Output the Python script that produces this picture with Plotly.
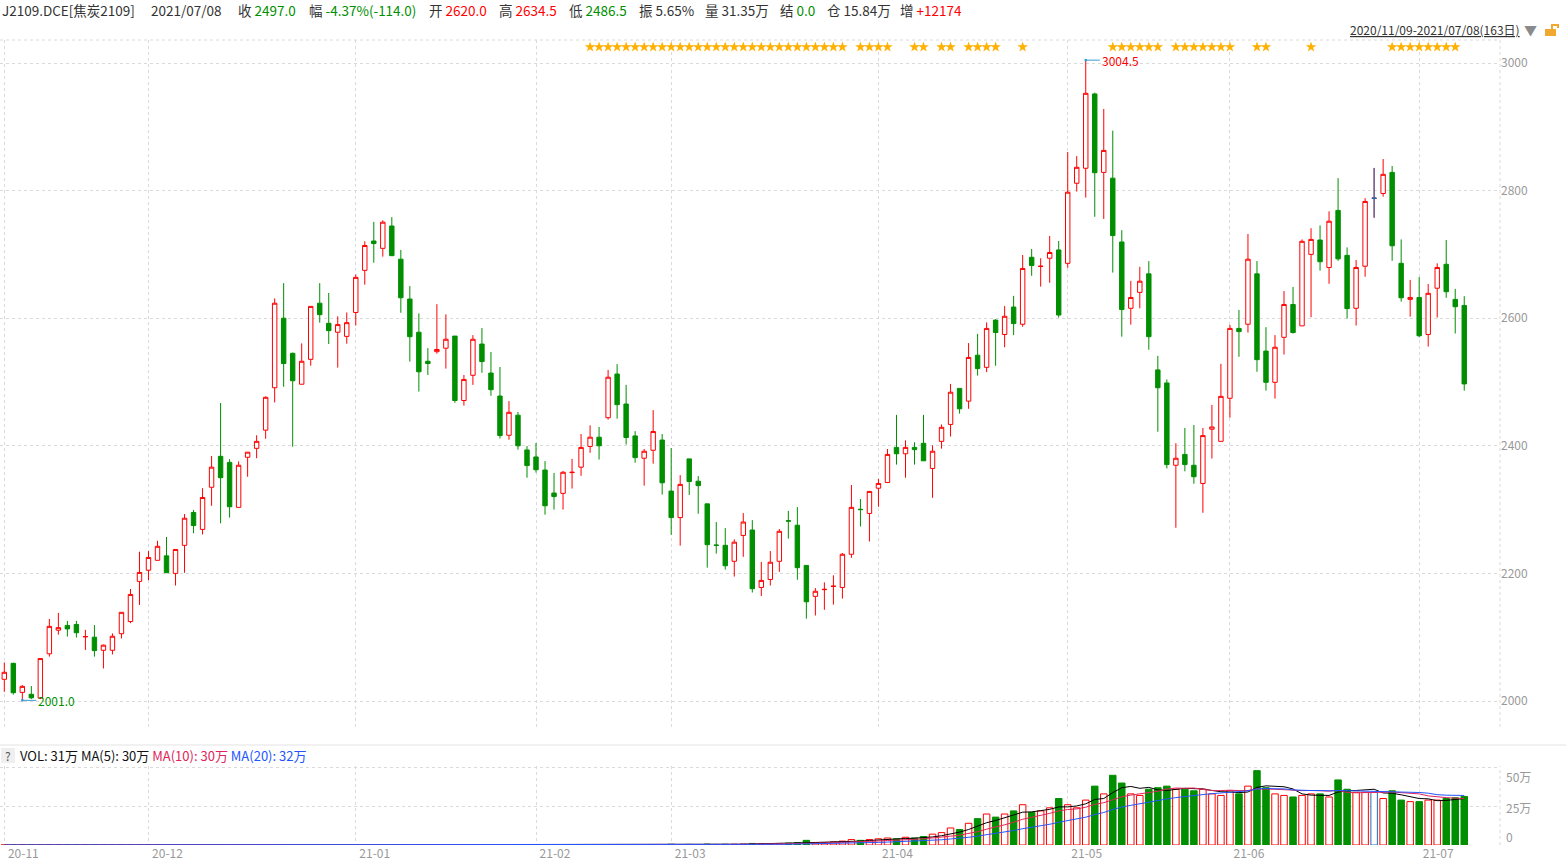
import pandas as pd
import plotly.graph_objects as go

# ---------------- data ----------------
holidays = ["2021-01-01", "2021-02-11", "2021-02-12", "2021-02-15", "2021-02-16",
            "2021-02-17", "2021-04-05", "2021-05-03", "2021-05-04", "2021-05-05", "2021-06-14"]
trade_days = [d.strftime("%Y-%m-%d") for d in pd.bdate_range("2020-11-09", "2021-07-08")
              if d.strftime("%Y-%m-%d") not in holidays]

opens = [2034, 2059, 2013.5, 2010.5, 2004.5, 2074, 2111, 2118.5, 2120, 2100.5,
         2100, 2079.5, 2079.5, 2105.5, 2124.5, 2187.5, 2205, 2220.5, 2227.5, 2200,
         2244, 2295.5, 2269, 2335, 2383.5, 2374, 2303.5, 2382, 2396, 2424.5,
         2491, 2600, 2545, 2496.5, 2535.5, 2623.5, 2592, 2578, 2571.5, 2609,
         2675, 2721, 2709.5, 2744.5, 2692.5, 2630, 2578, 2532.5, 2547.5, 2553,
         2572, 2471, 2510.5, 2559.5, 2514, 2478, 2416.5, 2448, 2393.5, 2382.5,
         2362, 2326, 2325.5, 2358, 2366.5, 2399, 2413.5, 2444, 2512.5, 2465.5,
         2415.5, 2380.5, 2393, 2409, 2329, 2287.5, 2379.5, 2344.5, 2309, 2244.5,
         2244, 2219, 2259.5, 2268, 2178, 2190.5, 2219, 2282.5, 2275.5, 2212.5,
         2164, 2174.5, 2179.5, 2178, 2230, 2300.5, 2294, 2333.5, 2342.5, 2397.5,
         2387.5, 2397.5, 2404, 2364.5, 2407, 2433.5, 2490, 2470, 2542, 2523,
         2597, 2574.5, 2617.5, 2590.5, 2695.5, 2681, 2694, 2707, 2686, 2811.5,
         2835, 2951.5, 2828.5, 2819.5, 2719.5, 2615.5, 2640.5, 2669.5, 2519, 2498.5,
         2369.5, 2386.5, 2369.5, 2341, 2426, 2407, 2474.5, 2584, 2590.5, 2669.5,
         2548.5, 2499.5, 2570, 2621.5, 2588, 2700, 2722.5, 2679.5, 2769, 2698.5,
         2615.5, 2681.5, 2788, 2795.5, 2828.5, 2686, 2629.5, 2632.5, 2574.5, 2647,
         2684.5, 2629.5, 2620]
highs = [2060.5, 2060, 2025, 2023.5, 2067, 2128.5, 2138, 2125.5, 2125.5, 2111.5,
         2119, 2088.5, 2106, 2139, 2175.5, 2234, 2235, 2251, 2257, 2237.5,
         2293, 2299.5, 2333.5, 2384, 2467, 2379, 2375.5, 2390, 2416.5, 2477.5,
         2631, 2655, 2546, 2560.5, 2618.5, 2655, 2639.5, 2603, 2609, 2668.5,
         2720.5, 2751, 2753.5, 2758.5, 2707, 2650.5, 2607.5, 2553, 2622, 2606,
         2572, 2511, 2573.5, 2584.5, 2547, 2523.5, 2470, 2453, 2399.5, 2404.5,
         2376, 2357.5, 2360.5, 2379.5, 2418.5, 2432, 2429.5, 2519, 2528, 2495.5,
         2423, 2395, 2456, 2418.5, 2396.5, 2354, 2379.5, 2352.5, 2309, 2280.5,
         2271, 2253.5, 2294.5, 2283.5, 2218, 2235, 2269.5, 2298, 2304, 2212.5,
         2177, 2186, 2197, 2232, 2338.5, 2316.5, 2329, 2348, 2395, 2448.5,
         2408.5, 2405.5, 2448.5, 2400.5, 2433.5, 2497, 2490, 2561, 2575.5, 2593.5,
         2598.5, 2619, 2635, 2699, 2708.5, 2694, 2729, 2721, 2860.5, 2854,
         3004.5, 2953.5, 2928, 2894, 2738, 2658.5, 2680.5, 2689.5, 2541, 2504,
         2404, 2428, 2432.5, 2428, 2464, 2528.5, 2589.5, 2613, 2732, 2689.5,
         2586, 2573.5, 2642.5, 2649, 2723.5, 2741, 2745.5, 2767.5, 2819.5, 2711,
         2691, 2788, 2835.5, 2849.5, 2838.5, 2723.5, 2660, 2664.5, 2653.5, 2686,
         2722.5, 2646, 2634.5]
lows = [2014.5, 2010, 2001, 2003, 2003, 2069.5, 2104, 2101, 2099.5, 2080,
        2069.5, 2051, 2073, 2098, 2122, 2150.5, 2189.5, 2220.5, 2201, 2181,
        2201, 2263, 2261, 2306, 2278.5, 2287.5, 2303.5, 2351.5, 2380.5, 2411,
        2468, 2492.5, 2398.5, 2496.5, 2525.5, 2593, 2559.5, 2522.5, 2560, 2588.5,
        2652.5, 2687, 2696.5, 2698, 2608.5, 2532, 2485, 2511, 2544.5, 2521,
        2467.5, 2463, 2495.5, 2514.5, 2478.5, 2411.5, 2409.5, 2394, 2350, 2358,
        2292, 2300, 2300, 2333, 2353, 2389, 2378.5, 2441, 2442.5, 2402,
        2373.5, 2337.5, 2372, 2323.5, 2260.5, 2243.5, 2323, 2293.5, 2209, 2231,
        2206, 2195, 2226, 2170, 2164.5, 2181, 2202.5, 2254.5, 2190, 2129,
        2134, 2143, 2151, 2160.5, 2224.5, 2273.5, 2250, 2304.5, 2342.5, 2370.5,
        2350, 2370.5, 2376.5, 2318.5, 2395.5, 2414.5, 2450.5, 2458, 2510, 2515.5,
        2525.5, 2554.5, 2573.5, 2586.5, 2666.5, 2649.5, 2655.5, 2601, 2679, 2798.5,
        2789, 2759, 2755.5, 2671.5, 2571, 2590, 2615.5, 2550.5, 2422, 2364.5,
        2271.5, 2360, 2340.5, 2295, 2380, 2407, 2444, 2539.5, 2577.5, 2516,
        2486.5, 2474, 2543, 2576, 2588, 2601.5, 2674.5, 2654, 2690, 2599.5,
        2588.5, 2665, 2757.5, 2790.5, 2690, 2626, 2602.5, 2570, 2555.5, 2601,
        2632, 2576, 2486.5]
closes = [2045, 2013, 2023, 2005, 2066.5, 2117, 2115, 2113, 2107, 2101,
          2079, 2087.5, 2101.5, 2139, 2167, 2201.5, 2225, 2242.5, 2201, 2237.5,
          2286.5, 2275, 2319, 2366.5, 2350, 2304.5, 2369.5, 2390, 2407, 2476,
          2623.5, 2529, 2502, 2532.5, 2618.5, 2605.5, 2580.5, 2590, 2593, 2664,
          2714, 2717, 2750.5, 2698, 2632, 2571, 2516, 2529, 2551, 2567,
          2471, 2504, 2567, 2532, 2488, 2416, 2452.5, 2400, 2369, 2362.5,
          2306, 2320.5, 2358.5, 2358.5, 2397.5, 2413.5, 2400, 2507.5, 2464.5, 2413,
          2381.5, 2391.5, 2422.5, 2342, 2287.5, 2339.5, 2344, 2337.5, 2245, 2244,
          2212, 2249, 2280.5, 2176, 2189, 2217.5, 2266, 2282, 2209, 2155.5,
          2172, 2175, 2180, 2230, 2303.5, 2300, 2328.5, 2341, 2386.5, 2387.5,
          2397.5, 2394, 2376.5, 2391.5, 2429, 2484, 2458, 2538.5, 2521, 2584,
          2577.5, 2603, 2591.5, 2678, 2682.5, 2681.5, 2703, 2605, 2797.5, 2836.5,
          2952.5, 2828, 2863, 2729.5, 2613.5, 2632.5, 2658, 2571, 2491, 2370.5,
          2380.5, 2370.5, 2351.5, 2416, 2429.5, 2477.5, 2584, 2579, 2692.5, 2535,
          2499.5, 2554.5, 2621.5, 2577.5, 2720.5, 2723.5, 2688.5, 2752, 2693, 2615,
          2679.5, 2783, 2788, 2825.5, 2713.5, 2632, 2632.5, 2572.5, 2639, 2679.5,
          2641.5, 2618, 2497]
# volume in 万手
volumes = [0, 0, 0, 0, 0, 0, 0, 0, 0, 0,
           0, 0, 0, 0, 0, 0, 0, 0, 0, 0,
           0, 0, 0, 0, 0, 0, 0, 0, 0, 0,
           0, 0, 0, 0, 0, 0, 0, 0, 0, 0,
           0, 0, 0, 0, 0, 0, 0, 0, 0, 0,
           0, 0, 0, 0, 0, 0, 0, 0, 0, 0,
           0, 0, 0, 0, 0, 0, 0, 0.3, 0.1, 0.3,
           0.1, 0.1, 0.2, 0.1, 0.5, 0.3, 0.4, 0.3, 0.6, 0.4,
           0.5, 0.5, 0.6, 1.0, 0.8, 0.8, 1.0, 1.2, 1.5, 3.0,
           1.5, 1.5, 2.0, 2.5, 3.5, 3.0, 3.5, 4.0, 4.5, 4.0,
           5.0, 4.5, 5.5, 7, 8, 11, 10, 14, 17, 20,
           18, 20, 22, 26, 21, 22, 24, 30, 26, 24,
           29, 38, 33, 45, 40, 33, 32, 36, 37, 38,
           36, 36, 35, 36, 33, 32, 35, 33, 38, 48,
           37, 33, 32, 31, 32, 33, 33, 31, 42, 36,
           34, 34, 34, 30, 35, 29, 28, 28, 29, 29,
           30, 30.5, 31.35]
star_idx = list(range(65, 94)) + [95, 96, 97, 98, 101, 102, 104, 105, 107, 108, 109, 110, 113,
                                  123, 124, 125, 126, 127, 128, 130, 131, 132, 133, 134, 135, 136,
                                  139, 140, 145] + list(range(154, 162))
month_first = ["2020-11-09", "2020-12-01", "2021-01-04", "2021-02-01", "2021-03-01",
               "2021-04-01", "2021-05-06", "2021-06-01", "2021-07-01"]
month_labels = ["20-11", "20-12", "21-01", "21-02", "21-03", "21-04", "21-05", "21-06", "21-07"]
price_ticks = [2000, 2200, 2400, 2600, 2800, 3000]

# ---------------- styles ----------------
RED = "#FF0000"
GREEN = "#008F00"
BLUE = "#1F6FB5"
GRID = "#DADADA"
FONT = "Microsoft YaHei, Noto Sans CJK SC, sans-serif"
W, H = 1566, 867
ML, MR, MT, MB = 0, 66, 40, 22
PW, PH = W - ML - MR, H - MT - MB


def py(pix_y):  # pixel y -> paper y
    return (H - MB - pix_y) / PH


def px(pix_x):
    return (pix_x - ML) / PW


fig = go.Figure()

fig.add_trace(go.Candlestick(
    x=trade_days, open=opens, high=highs, low=lows, close=closes,
    increasing=dict(line=dict(color=RED, width=1), fillcolor="white"),
    decreasing=dict(line=dict(color=GREEN, width=1), fillcolor=GREEN),
    whiskerwidth=0, xaxis="x", yaxis="y", showlegend=False, hoverinfo="x+y"))

# flat (open == close) candles in blue
flat = [i for i in range(len(opens)) if opens[i] == closes[i]]
if flat:
    fig.add_trace(go.Candlestick(
        x=[trade_days[i] for i in flat], open=[opens[i] for i in flat],
        high=[highs[i] for i in flat], low=[lows[i] for i in flat],
        close=[closes[i] for i in flat],
        increasing=dict(line=dict(color=BLUE, width=1), fillcolor=BLUE),
        decreasing=dict(line=dict(color=BLUE, width=1), fillcolor=BLUE),
        whiskerwidth=0, xaxis="x", yaxis="y", showlegend=False))

# stars row
fig.add_trace(go.Scatter(
    x=[trade_days[i] for i in star_idx], y=[3025] * len(star_idx), mode="markers",
    marker=dict(symbol="star", size=8, color="#FFB000", line=dict(width=0)),
    xaxis="x", yaxis="y", showlegend=False, hoverinfo="skip"))

# volume bars
up = [i for i in range(len(opens)) if closes[i] > opens[i]]
dn = [i for i in range(len(opens)) if closes[i] < opens[i]]
fig.add_trace(go.Bar(x=[trade_days[i] for i in up], y=[volumes[i] for i in up],
                     marker=dict(color="white", line=dict(color=RED, width=1)),
                     width=0.72, xaxis="x2", yaxis="y2", showlegend=False))
fig.add_trace(go.Bar(x=[trade_days[i] for i in dn], y=[volumes[i] for i in dn],
                     marker=dict(color=GREEN, line=dict(color=GREEN, width=1)),
                     width=0.72, xaxis="x2", yaxis="y2", showlegend=False))
fig.add_trace(go.Bar(x=[trade_days[i] for i in flat], y=[volumes[i] for i in flat],
                     marker=dict(color="white", line=dict(color=BLUE, width=1)),
                     width=0.72, xaxis="x2", yaxis="y2", showlegend=False))

vol_s = pd.Series(volumes)
for n, col in [(5, "#000000"), (10, "#E0245A"), (20, "#2255FF")]:
    fig.add_trace(go.Scatter(x=trade_days, y=vol_s.rolling(n, min_periods=1).mean(),
                             mode="lines", line=dict(color=col, width=1),
                             xaxis="x2", yaxis="y2", showlegend=False, hoverinfo="skip"))

step = 9.012
xr = [-4.3 / step, -4.3 / step + PW / step]
main_bottom = py(727)
vol_top = py(766)
p_lo = 3000 - (727 - 63) * 1000 / 638
p_hi = 3000 - (40 - 63) * 1000 / 638

fig.update_layout(
    width=W, height=H, margin=dict(l=ML, r=MR, t=MT, b=MB),
    paper_bgcolor="white", plot_bgcolor="white", bargap=0.28,
    font=dict(family=FONT, size=12, color="#333"),
    xaxis=dict(domain=[0, 1], type="category", range=xr, anchor="y",
               tickvals=month_first, showticklabels=False, ticks="",
               showgrid=True, gridcolor=GRID, griddash="dot", gridwidth=1,
               zeroline=False, showline=False, rangeslider=dict(visible=False),
               categoryorder="array", categoryarray=trade_days),
    yaxis=dict(domain=[main_bottom, 1], range=[p_lo, p_hi], side="right", anchor="x",
               tickvals=price_ticks, tickfont=dict(color="#999", size=12),
               showgrid=True, gridcolor=GRID, griddash="dot", zeroline=False,
               showline=False, ticks=""),
    xaxis2=dict(domain=[0, 1], type="category", range=xr, anchor="y2", matches="x",
                tickvals=month_first, ticktext=month_labels,
                tickfont=dict(color="#999", size=12), ticklabelshift=19, ticks="",
                showgrid=True, gridcolor=GRID, griddash="dot",
                zeroline=False, showline=False,
                categoryorder="array", categoryarray=trade_days),
    yaxis2=dict(domain=[0, vol_top], range=[0, 51], side="right", anchor="x2",
                tickvals=[25, 50], showticklabels=False, ticks="",
                showgrid=True, gridcolor=GRID, griddash="dot",
                zeroline=False, showline=False),
)

shapes = [
    dict(type="line", xref="paper", yref="paper", x0=0, x1=px(W), y0=py(745), y1=py(745),
         line=dict(color="#E3E3E3", width=1)),
    dict(type="line", xref="paper", yref="paper", x0=0, x1=1, y0=1, y1=1,
         line=dict(color=GRID, width=1, dash="dot")),
    dict(type="line", xref="paper", yref="paper", x0=1, x1=1, y0=main_bottom, y1=1,
         line=dict(color=GRID, width=1, dash="dot")),
    dict(type="line", xref="paper", yref="paper", x0=1, x1=1, y0=0, y1=vol_top,
         line=dict(color=GRID, width=1, dash="dot")),
    dict(type="rect", xref="paper", yref="paper", x0=px(1), x1=px(15), y0=py(763), y1=py(748),
         fillcolor="#EFEFEF", line=dict(width=0)),
    # lock icon
    dict(type="rect", xref="paper", yref="paper", x0=px(1545), x1=px(1556), y0=py(36), y1=py(29),
         fillcolor="#F0A830", line=dict(width=0)),
    dict(type="path", xref="paper", yref="paper",
         path=f"M {px(1552)} {py(29)} L {px(1552)} {py(25)} L {px(1558)} {py(25)} L {px(1558)} {py(28)}",
         line=dict(color="#F0A830", width=2)),
]
fig.update_layout(shapes=shapes)

ann = []
hdr_y = py(10)
items = [
    (0, "J2109.DCE[焦炭2109]"),
    (149, "2021/07/08"),
    (236, f"收 <span style='color:{GREEN}'>2497.0</span>"),
    (307, f"幅 <span style='color:{GREEN}'>-4.37%(-114.0)</span>"),
    (427, f"开 <span style='color:{RED}'>2620.0</span>"),
    (497, f"高 <span style='color:{RED}'>2634.5</span>"),
    (567, f"低 <span style='color:{GREEN}'>2486.5</span>"),
    (637, "振 5.65%"),
    (703, "量 31.35万"),
    (778, f"结 <span style='color:{GREEN}'>0.0</span>"),
    (825, "仓 15.84万"),
    (898, f"增 <span style='color:{RED}'>+12174</span>"),
]
for xpx, t in items:
    ann.append(dict(xref="paper", yref="paper", x=px(xpx), y=hdr_y, text=t, showarrow=False,
                    xanchor="left", yanchor="middle", font=dict(size=13.5, color="#333")))

ann.append(dict(xref="paper", yref="paper", x=px(1522), y=py(30),
                text="<u>2020/11/09-2021/07/08(163日)</u>", showarrow=False,
                xanchor="right", yanchor="middle", font=dict(size=12, color="#333")))
ann.append(dict(xref="paper", yref="paper", x=px(1530), y=py(30), text="▼", showarrow=False,
                xanchor="center", yanchor="middle", font=dict(size=13, color="#8A8A8A")))

ann.append(dict(xref="paper", yref="paper", x=px(8), y=py(755), text="?", showarrow=False,
                xanchor="center", yanchor="middle", font=dict(size=12, color="#555")))
ann.append(dict(xref="paper", yref="paper", x=px(18), y=py(755),
                text="VOL: 31万 MA(5): 30万 <span style='color:#E0245A'>MA(10): 30万</span> "
                     "<span style='color:#2255FF'>MA(20): 32万</span>",
                showarrow=False, xanchor="left", yanchor="middle", font=dict(size=13, color="#111")))

for txt, ypix in [("50万", 776), ("25万", 807), ("0", 836)]:
    ann.append(dict(xref="paper", yref="paper", x=px(1504), y=py(ypix), text=txt, showarrow=False,
                    xanchor="left", yanchor="middle", font=dict(size=12, color="#999")))

imax = max(range(len(highs)), key=lambda i: highs[i])
imin = min(range(len(lows)), key=lambda i: lows[i])
ann.append(dict(x=trade_days[imax], y=highs[imax], xref="x", yref="y",
                text=f"{highs[imax]:.1f}", showarrow=True, ax=14, ay=0, xanchor="left",
                arrowhead=7, arrowsize=0.6, arrowwidth=1, arrowcolor="#3A9AD0", standoff=0,
                font=dict(size=12, color=RED)))
ann.append(dict(x=trade_days[imin], y=lows[imin], xref="x", yref="y",
                text=f"{lows[imin]:.1f}", showarrow=True, ax=14, ay=0, xanchor="left",
                arrowhead=7, arrowsize=0.6, arrowwidth=1, arrowcolor="#3A9AD0", standoff=0,
                font=dict(size=12, color=GREEN)))
fig.update_layout(annotations=ann)

fig.write_html("out.html", config={"displayModeBar": False},
               post_script="document.body.style.margin='0';document.body.style.overflow='hidden';")
